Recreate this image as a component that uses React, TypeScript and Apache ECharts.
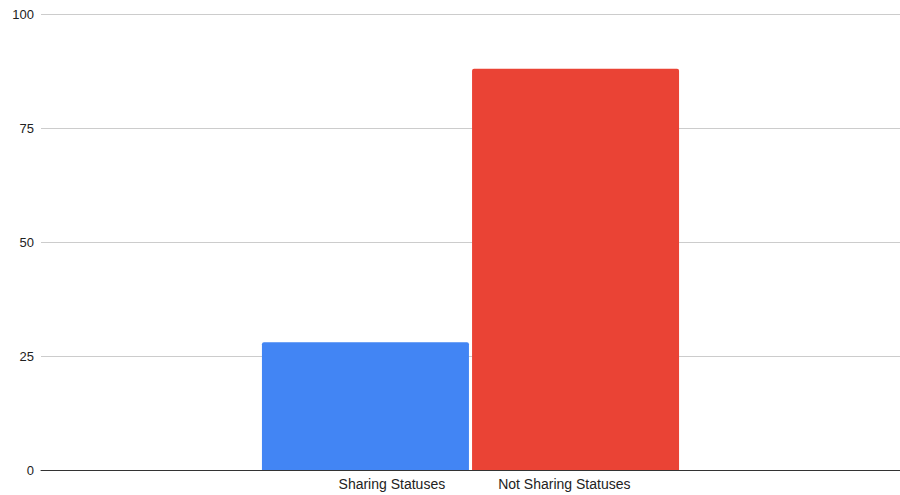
import React, { useEffect, useRef } from "react";
import * as echarts from "echarts";

const categories = [""];
const seriesNames = ["Sharing Statuses", "Not Sharing Statuses"];
const sharingValues = [28];
const notSharingValues = [88];
const yTicks = { min: 0, max: 100, interval: 25 };
const colors = ["#4285F4", "#EA4335"];

const FONT = "'Liberation Sans', Arial, sans-serif";

export default function App() {
  const ref = useRef<HTMLDivElement>(null);
  useEffect(() => {
    if (!ref.current) return;
    const chart = echarts.init(ref.current, undefined, { renderer: "svg" });
    chart.setOption({
      animation: false,
      textStyle: { fontFamily: FONT },
      grid: { left: 41, right: 0, top: 14, bottom: 25, containLabel: false },
      xAxis: {
        type: "category",
        data: categories,
        axisTick: { show: false },
        axisLine: { show: true, lineStyle: { color: "#333333", width: 1 } },
        axisLabel: {
          show: true,
          margin: 7,
          padding: [0, 0, 0, 28],
          formatter: () => `{a|${seriesNames[0]}}{gap|}{b|${seriesNames[1]}}`,
          rich: {
            a: { fontSize: 14, color: "#222222", fontFamily: FONT },
            gap: { width: 53 },
            b: { fontSize: 14, color: "#222222", fontFamily: FONT },
          },
        },
      },
      yAxis: {
        type: "value",
        min: yTicks.min,
        max: yTicks.max,
        interval: yTicks.interval,
        axisLine: { show: false },
        axisTick: { show: false },
        axisLabel: { margin: 7, fontSize: 13, color: "#222222", fontFamily: FONT },
        splitLine: { lineStyle: { color: "#cccccc", width: 1 } },
      },
      series: [
        {
          name: seriesNames[0],
          type: "bar",
          data: sharingValues,
          barWidth: 207,
          barGap: "1.5%",
          itemStyle: { color: colors[0], borderRadius: [2, 2, 0, 0] },
        },
        {
          name: seriesNames[1],
          type: "bar",
          data: notSharingValues,
          barWidth: 207,
          barGap: "1.5%",
          itemStyle: { color: colors[1], borderRadius: [2, 2, 0, 0] },
        },
      ],
    });
    return () => chart.dispose();
  }, []);
  return <div ref={ref} style={{ width: 900, height: 495, position: "absolute", left: 0, top: 0 }} />;
}
